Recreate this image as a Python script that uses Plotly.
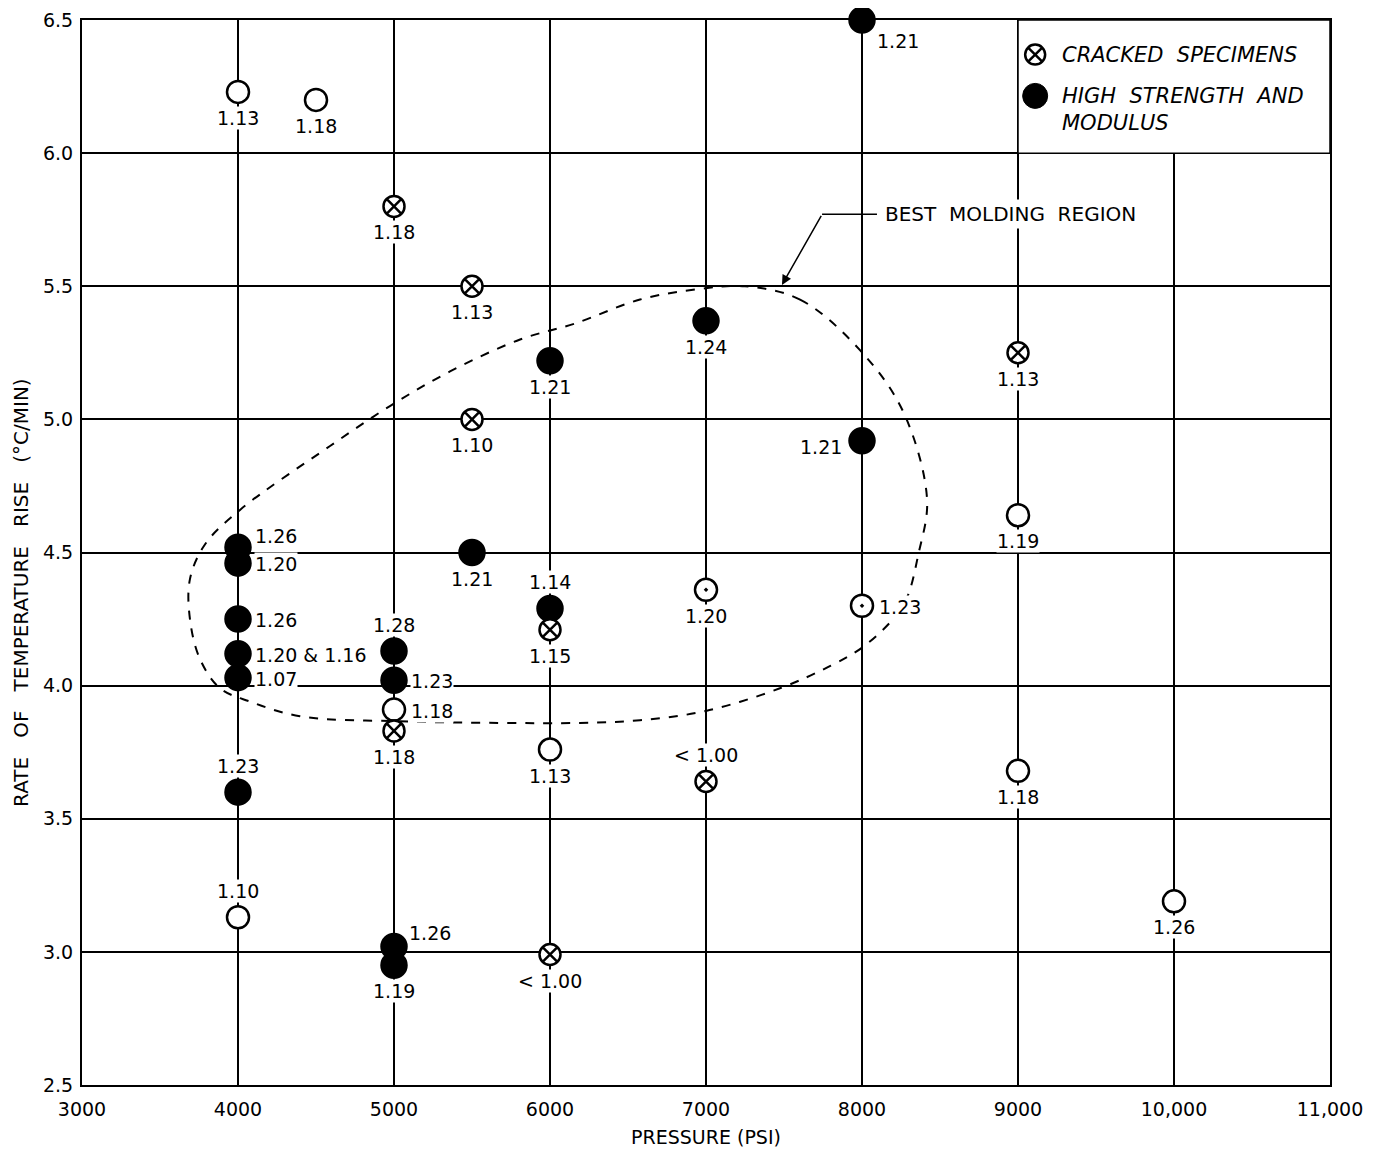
import plotly.graph_objects as go

# ---- data ----
pressure = [4000, 4500, 5000, 5500, 5500, 6000, 7000, 8000, 8000, 9000, 9000,
            4000, 4000, 4000, 4000, 4000, 4000, 4000,
            5000, 5000, 5000, 5000, 5000, 5000,
            5500, 6000, 6000, 6000, 6000, 7000, 7000, 8000, 9000, 10000]
rate = [6.23, 6.20, 5.80, 5.50, 5.00, 5.22, 5.37, 6.50, 4.92, 5.25, 4.64,
        4.52, 4.46, 4.25, 4.12, 4.03, 3.60, 3.13,
        4.13, 4.02, 3.91, 3.83, 3.02, 2.95,
        4.50, 4.29, 4.21, 3.76, 2.99, 4.36, 3.64, 4.30, 3.68, 3.19]
kind = ["open", "open", "cracked", "cracked", "cracked", "high", "high", "high", "high", "cracked", "open",
        "high", "high", "high", "high", "high", "high", "open",
        "high", "high", "open", "cracked", "high", "high",
        "high", "high", "cracked", "open", "cracked", "open_dot", "cracked", "open_dot", "open", "open"]
ratio_label = ["1.13", "1.18", "1.18", "1.13", "1.10", "1.21", "1.24", "1.21", "1.21", "1.13", "1.19",
               "1.26", "1.20", "1.26", "1.20 & 1.16", "1.07", "1.23", "1.10",
               "1.28", "1.23", "1.18", "1.18", "1.26", "1.19",
               "1.21", "1.14", "1.15", "1.13", "< 1.00", "1.20", "< 1.00", "1.23", "1.18", "1.26"]

# boundary of the "best molding region" (dashed closed curve)
region_x = [7250, 7603, 7987, 8263, 8417, 8360, 8288, 8199, 8006, 7800, 7474, 7000, 6577, 6192,
            5680, 5038, 4397, 4077, 3885, 3756, 3692, 3692, 3788, 4013, 4590, 4974, 5359,
            5808, 6160, 6577, 6962, 7250]
region_y = [5.50, 5.45, 5.26, 5.03, 4.70, 4.49, 4.33, 4.25, 4.145, 4.075, 3.99, 3.905, 3.87, 3.86,
            3.86, 3.866, 3.885, 3.94, 3.99, 4.10, 4.25, 4.40, 4.53, 4.66, 4.90, 5.05, 5.18,
            5.30, 5.36, 5.45, 5.49, 5.50]

x_ticks = [3000, 4000, 5000, 6000, 7000, 8000, 9000, 10000, 11000]
x_tick_text = ["3000", "4000", "5000", "6000", "7000", "8000", "9000", "10,000", "11,000"]
y_ticks = [2.5, 3.0, 3.5, 4.0, 4.5, 5.0, 5.5, 6.0, 6.5]
y_tick_text = ["2.5", "3.0", "3.5", "4.0", "4.5", "5.0", "5.5", "6.0", "6.5"]

# ---- label placement (style, not data) ----
label_pos = ["below", "below", "below", "below", "below", "below", "below", "belowright", "left", "below", "below",
             "rightup", "right", "right", "right", "right", "above", "above",
             "above", "right", "right", "below", "rightup2", "below",
             "below", "above", "below", "below", "below", "below", "above", "right", "below", "below"]
pos_style = {
    "below": dict(xshift=0, yshift=-26, xanchor="center"),
    "above": dict(xshift=0, yshift=26, xanchor="center"),
    "right": dict(xshift=16, yshift=-1, xanchor="left"),
    "rightup": dict(xshift=16, yshift=11, xanchor="left"),
    "rightup2": dict(xshift=14, yshift=14, xanchor="left"),
    "belowright": dict(xshift=14, yshift=-21, xanchor="left"),
    "left": dict(xshift=-19, yshift=-6, xanchor="right"),
}

FONT = "DejaVu Sans"
fig = go.Figure()

# dashed region
fig.add_trace(go.Scatter(x=region_x, y=region_y, mode="lines",
                         line=dict(color="black", width=2, dash="dash", shape="spline", smoothing=1.0),
                         hoverinfo="skip", showlegend=False))

sym_map = {"open": "circle", "open_dot": "circle-dot", "cracked": "circle-x", "high": "circle"}
col_map = {"open": "white", "open_dot": "white", "cracked": "white", "high": "black"}
size_map = {"open": 22, "open_dot": 22, "cracked": 21, "high": 25}

fig.add_trace(go.Scatter(
    x=pressure, y=rate, mode="markers",
    marker=dict(symbol=[sym_map[k] for k in kind],
                color=[col_map[k] for k in kind],
                size=[size_map[k] for k in kind],
                opacity=1,
                line=dict(color="black", width=2.5)),
    cliponaxis=False, showlegend=False))

annotations = []
for px, ry, lab, pos in zip(pressure, rate, ratio_label, label_pos):
    st = pos_style[pos]
    annotations.append(dict(x=px, y=ry, text=lab, showarrow=False,
                            xanchor=st["xanchor"], yanchor="middle",
                            xshift=st["xshift"], yshift=st["yshift"],
                            bgcolor="white", borderpad=0,
                            font=dict(family=FONT, size=19, color="black")))

# legend box (drawn inside plot) and leader line
shapes = [
    dict(type="rect", xref="x", yref="y", x0=9000, x1=11000, y0=6.0, y1=6.5,
         fillcolor="white", line=dict(color="black", width=1.5), layer="between"),
    dict(type="line", xref="x", yref="y", x0=7744, x1=8096, y0=5.77, y1=5.77,
         line=dict(color="black", width=1.5)),
]

fig.add_trace(go.Scatter(x=[9110], y=[6.37], mode="markers",
                         marker=dict(symbol="circle-x", color="white", size=20, opacity=1,
                                     line=dict(color="black", width=2.5)),
                         showlegend=False, hoverinfo="skip"))
fig.add_trace(go.Scatter(x=[9110], y=[6.215], mode="markers",
                         marker=dict(symbol="circle", color="black", size=25, opacity=1,
                                     line=dict(color="black", width=1)),
                         showlegend=False, hoverinfo="skip"))

annotations += [
    dict(x=9270, y=6.37, text="<i>CRACKED  SPECIMENS</i>", showarrow=False, xanchor="left",
         yanchor="middle", font=dict(family=FONT, size=21, color="black")),
    dict(x=9270, y=6.215, text="<i>HIGH  STRENGTH  AND</i>", showarrow=False, xanchor="left",
         yanchor="middle", font=dict(family=FONT, size=21, color="black")),
    dict(x=9270, y=6.115, text="<i>MODULUS</i>", showarrow=False, xanchor="left",
         yanchor="middle", font=dict(family=FONT, size=21, color="black")),
    dict(x=8130, y=5.77, text="BEST  MOLDING  REGION", showarrow=False, xanchor="left",
         yanchor="middle", bgcolor="white", borderpad=2,
         font=dict(family=FONT, size=20, color="black")),
    dict(x=7487, y=5.505, ax=7744, ay=5.77, axref="x", ayref="y", xref="x", yref="y",
         text="", showarrow=True, arrowhead=2, arrowsize=1.3, arrowwidth=1.5, arrowcolor="black"),
    # y axis title
    dict(xref="paper", yref="y", x=-0.0485, y=4.35, textangle=-90,
         text="RATE   OF   TEMPERATURE   RISE   (°C/MIN)", showarrow=False,
         xanchor="center", yanchor="middle", borderpad=0,
         font=dict(family=FONT, size=20, color="black")),
]

fig.update_layout(
    width=1359, height=1140,
    margin=dict(l=74, r=37, t=12, b=63),
    paper_bgcolor="white", plot_bgcolor="white",
    shapes=shapes, annotations=annotations,
    font=dict(family=FONT, color="black"),
    xaxis=dict(range=[3000, 11000], tickvals=x_ticks, ticktext=x_tick_text,
               showgrid=True, gridcolor="black", gridwidth=1.7,
               showline=True, linecolor="black", linewidth=2.2, mirror=True,
               ticks="", zeroline=False, automargin=False, ticklabelstandoff=6,
               tickfont=dict(family=FONT, size=19, color="black"),
               title=dict(text="PRESSURE (PSI)", font=dict(family=FONT, size=19), standoff=14)),
    yaxis=dict(range=[2.5, 6.5], tickvals=y_ticks, ticktext=y_tick_text,
               showgrid=True, gridcolor="black", gridwidth=1.7,
               showline=True, linecolor="black", linewidth=2.2, mirror=True,
               ticks="", zeroline=False, automargin=False, ticklabelstandoff=3,
               tickfont=dict(family=FONT, size=19, color="black")),
)

fig.write_html("out.html")
